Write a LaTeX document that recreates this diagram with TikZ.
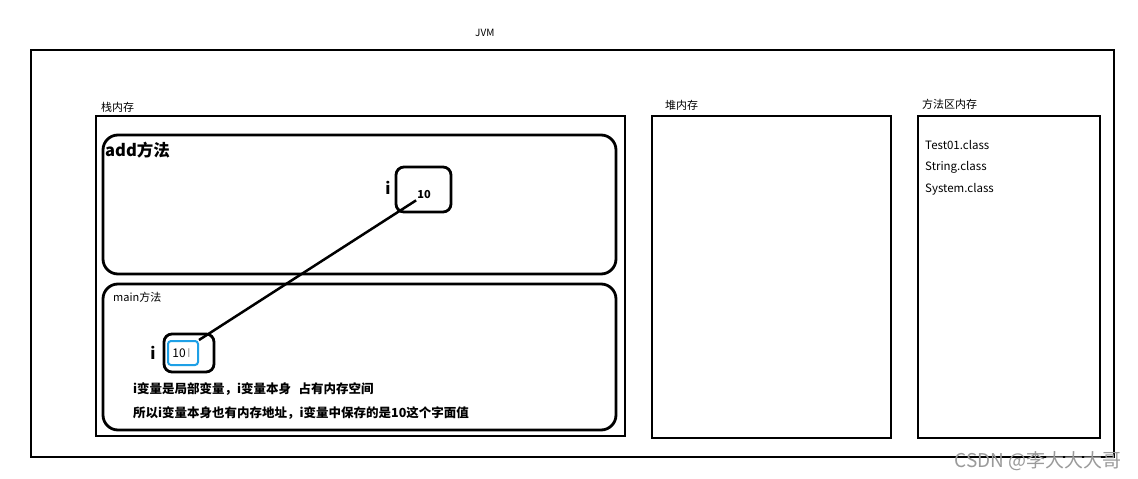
\documentclass[tikz,border=0pt]{standalone}
\usepackage{fontspec}
\setmainfont{Noto Sans CJK SC}
\usetikzlibrary{positioning}
\definecolor{CaretBlue}{HTML}{1EA0E6}
\definecolor{MarkGray}{HTML}{9A9A9A}
\tikzset{
  area/.style={draw,line width=2.8pt,inner sep=0pt},
  frame/.style={draw,line width=2.8pt,rounded corners=15pt,inner sep=0pt},
  cell/.style={draw,line width=2.8pt,rounded corners=8pt,inner sep=0pt},
  tag/.style={font=\fontsize{11}{13}\selectfont,anchor=west,inner sep=0pt},
  note/.style={font=\fontsize{12.5}{15}\selectfont\bfseries,anchor=west,inner sep=0pt},
  cls/.style={font=\fontsize{11.5}{13}\selectfont,anchor=west,inner sep=0pt},
  link/.style={line width=2.5pt}
}

\begin{document}
\begin{tikzpicture}[x=1pt,y={(0pt,-1pt)}]
  \useasboundingbox[fill=white] (0,0) rectangle (1138,479);
  \node[tag,font=\fontsize{10}{12}\selectfont] (jvmtag) at (475,33) {JVM};
  \node[area,minimum width=1083pt,minimum height=407pt] (jvm) at (572.5,253.5) {};

  \node[tag] (stacktag) at (101,107) {栈内存};
  \node[area,minimum width=529pt,minimum height=320pt] (stack) at (360.5,276) {};
  \node[frame,minimum width=513pt,minimum height=139pt] (addframe) at (359.5,204.5) {};
  \node[tag,font=\fontsize{16.5}{18}\selectfont\bfseries] (addtag) at (105,150) {add方法};
  \node[cell,minimum width=55pt,minimum height=45pt] (addcell) at (423.5,189.5) {};
  \node[font=\fontsize{16}{18}\selectfont\bfseries,inner sep=0pt,left=4pt of addcell,yshift=2pt] (addi) {i};
  \node[font=\fontsize{11}{13}\selectfont\bfseries,inner sep=1pt] (addval) at (424,195) {10};

  \node[frame,minimum width=513pt,minimum height=146pt] (mainframe) at (359.5,357) {};
  \node[tag] (maintag) at (113,297) {main方法};
  \node[cell,minimum width=50pt,minimum height=38pt] (maincell) at (189,353) {};
  \node[draw=CaretBlue,line width=2pt,rounded corners=3pt,minimum width=30pt,minimum height=24pt,inner sep=0pt] (mainval) at (183,353) {};
  \node[font=\fontsize{12}{14}\selectfont,inner sep=0pt] (mainnum) at (179,353) {10};
  \node[font=\fontsize{12}{14}\selectfont,text=MarkGray,inner sep=0pt,right=1pt of mainnum] (caret) {I};
  \node[font=\fontsize{16}{18}\selectfont\bfseries,inner sep=0pt,left=7pt of maincell] (maini) {i};
  \draw[link] (mainval.north east) -- (addval.south west);
  \node[note] (note1) at (133,389) {i变量是局部变量，i变量本身\hspace{0.6em}占有内存空间};
  \node[note] (note2) at (133,413) {所以i变量本身也有内存地址，i变量中保存的是10这个字面值};

  \node[tag] (heaptag) at (665,105) {堆内存};
  \node[area,minimum width=239pt,minimum height=322pt] (heap) at (771.5,277) {};

  \node[tag] (methodtag) at (922,104) {方法区内存};
  \node[area,minimum width=182pt,minimum height=322pt] (method) at (1009,277) {};
  \node[cls] (test) at (925,145) {Test01.class};
  \node[cls] (string) at (925,167) {String.class};
  \node[cls] (system) at (925,189) {System.class};

  \node[font=\fontsize{19}{21}\selectfont,text=MarkGray,anchor=east,inner sep=0pt] (mark) at (1122,461) {CSDN @李大大大哥};
\end{tikzpicture}
\end{document}
